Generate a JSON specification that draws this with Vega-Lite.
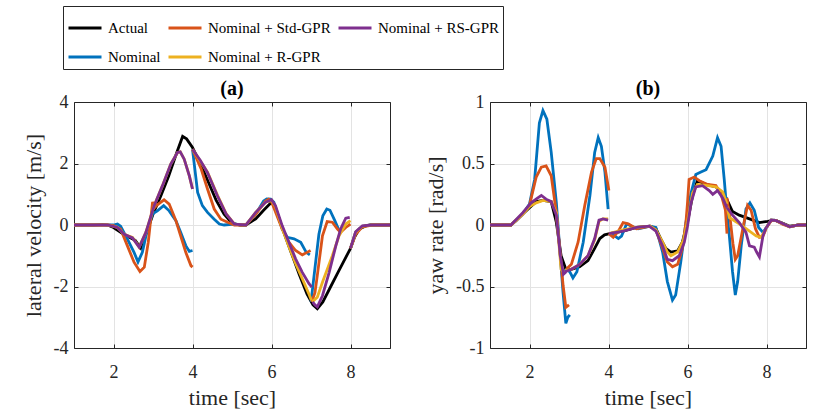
{
"$schema": "https://vega.github.io/schema/vega-lite/v6.json",
"padding": {"left": 22, "top": 5, "right": 5, "bottom": 5},
"background": "white",
"config": {
 "font": "Liberation Serif, Times New Roman, serif",
 "view": {"stroke": null},
 "axis": {"domainColor": "#262626", "domainWidth": 1, "tickColor": "#262626", "tickSize": -4, "tickWidth": 1, "gridColor": "#e3e3e3", "gridWidth": 1, "labelFont": "Liberation Serif, Times New Roman, serif", "labelFontSize": 18, "labelColor": "#262626", "titleFont": "Liberation Serif, Times New Roman, serif", "titleFontSize": 22, "titleFontWeight": "normal", "titleColor": "#262626"},
 "legend": {"orient": "none", "legendX": -11, "legendY": -96, "columns": 3, "symbolType": "stroke", "symbolSize": 1089, "symbolStrokeWidth": 2.8, "labelFontSize": 15, "labelFont": "Liberation Serif, Times New Roman, serif", "labelColor": "#000000", "strokeColor": "#262626", "fillColor": "white", "padding": 4, "columnPadding": 1, "rowPadding": 3, "labelOffset": 5, "labelLimit": 300}
},
"datasets": {"d": [
{"p":"a","s":"Actual","g":0,"t":1,"v":0},{"p":"a","s":"Actual","g":0,"t":1.5,"v":0},{"p":"a","s":"Actual","g":0,"t":1.72,"v":0.02},{"p":"a","s":"Actual","g":0,"t":1.85,"v":0},{"p":"a","s":"Actual","g":0,"t":2.0,"v":-0.08},{"p":"a","s":"Actual","g":0,"t":2.2,"v":-0.25},{"p":"a","s":"Actual","g":0,"t":2.4,"v":-0.4},{"p":"a","s":"Actual","g":0,"t":2.55,"v":-0.5},{"p":"a","s":"Actual","g":0,"t":2.69,"v":-0.75},{"p":"a","s":"Actual","g":0,"t":2.85,"v":-0.2},{"p":"a","s":"Actual","g":0,"t":3.0,"v":0.35},{"p":"a","s":"Actual","g":0,"t":3.2,"v":0.95},{"p":"a","s":"Actual","g":0,"t":3.4,"v":1.6},{"p":"a","s":"Actual","g":0,"t":3.6,"v":2.35},{"p":"a","s":"Actual","g":0,"t":3.75,"v":2.88},{"p":"a","s":"Actual","g":0,"t":3.85,"v":2.8},{"p":"a","s":"Actual","g":0,"t":4.0,"v":2.52},{"p":"a","s":"Actual","g":0,"t":4.2,"v":2.0},{"p":"a","s":"Actual","g":0,"t":4.4,"v":1.4},{"p":"a","s":"Actual","g":0,"t":4.6,"v":0.8},{"p":"a","s":"Actual","g":0,"t":4.8,"v":0.35},{"p":"a","s":"Actual","g":0,"t":5.0,"v":0.06},{"p":"a","s":"Actual","g":0,"t":5.2,"v":0},{"p":"a","s":"Actual","g":0,"t":5.35,"v":0},{"p":"a","s":"Actual","g":0,"t":5.6,"v":0.2},{"p":"a","s":"Actual","g":0,"t":5.8,"v":0.48},{"p":"a","s":"Actual","g":0,"t":6.0,"v":0.74},{"p":"a","s":"Actual","g":0,"t":6.1,"v":0.55},{"p":"a","s":"Actual","g":0,"t":6.3,"v":-0.2},{"p":"a","s":"Actual","g":0,"t":6.5,"v":-0.9},{"p":"a","s":"Actual","g":0,"t":6.7,"v":-1.6},{"p":"a","s":"Actual","g":0,"t":6.9,"v":-2.25},{"p":"a","s":"Actual","g":0,"t":7.05,"v":-2.6},{"p":"a","s":"Actual","g":0,"t":7.16,"v":-2.72},{"p":"a","s":"Actual","g":0,"t":7.3,"v":-2.5},{"p":"a","s":"Actual","g":0,"t":7.5,"v":-2.0},{"p":"a","s":"Actual","g":0,"t":7.7,"v":-1.5},{"p":"a","s":"Actual","g":0,"t":8.0,"v":-0.76},{"p":"a","s":"Actual","g":0,"t":8.1,"v":-0.4},{"p":"a","s":"Actual","g":0,"t":8.22,"v":-0.13},{"p":"a","s":"Actual","g":0,"t":8.4,"v":-0.02},{"p":"a","s":"Actual","g":0,"t":8.5,"v":0},{"p":"a","s":"Actual","g":0,"t":9,"v":0},

{"p":"a","s":"Nominal","g":1,"t":1,"v":0},{"p":"a","s":"Nominal","g":1,"t":1.85,"v":0},{"p":"a","s":"Nominal","g":1,"t":2.0,"v":0},{"p":"a","s":"Nominal","g":1,"t":2.1,"v":0.03},{"p":"a","s":"Nominal","g":1,"t":2.18,"v":-0.04},{"p":"a","s":"Nominal","g":1,"t":2.35,"v":-0.45},{"p":"a","s":"Nominal","g":1,"t":2.52,"v":-0.89},{"p":"a","s":"Nominal","g":1,"t":2.62,"v":-1.2},{"p":"a","s":"Nominal","g":1,"t":2.73,"v":-0.89},{"p":"a","s":"Nominal","g":1,"t":2.86,"v":-0.13},{"p":"a","s":"Nominal","g":1,"t":2.99,"v":0.36},{"p":"a","s":"Nominal","g":1,"t":3.11,"v":0.46},{"p":"a","s":"Nominal","g":1,"t":3.27,"v":0.63},{"p":"a","s":"Nominal","g":1,"t":3.41,"v":0.46},{"p":"a","s":"Nominal","g":1,"t":3.58,"v":0.14},{"p":"a","s":"Nominal","g":1,"t":3.7,"v":-0.24},{"p":"a","s":"Nominal","g":1,"t":3.83,"v":-0.67},{"p":"a","s":"Nominal","g":1,"t":3.92,"v":-0.86},{"p":"a","s":"Nominal","g":1,"t":4.0,"v":-0.83},
{"p":"a","s":"Nominal","g":2,"t":4.0,"v":2.46},{"p":"a","s":"Nominal","g":2,"t":4.13,"v":1.06},{"p":"a","s":"Nominal","g":2,"t":4.25,"v":0.63},{"p":"a","s":"Nominal","g":2,"t":4.38,"v":0.41},{"p":"a","s":"Nominal","g":2,"t":4.55,"v":0.19},{"p":"a","s":"Nominal","g":2,"t":4.68,"v":0.03},{"p":"a","s":"Nominal","g":2,"t":4.8,"v":0},{"p":"a","s":"Nominal","g":2,"t":5.06,"v":0.03},{"p":"a","s":"Nominal","g":2,"t":5.35,"v":0},{"p":"a","s":"Nominal","g":2,"t":5.6,"v":0.35},{"p":"a","s":"Nominal","g":2,"t":5.8,"v":0.78},{"p":"a","s":"Nominal","g":2,"t":5.88,"v":0.85},{"p":"a","s":"Nominal","g":2,"t":5.98,"v":0.84},{"p":"a","s":"Nominal","g":2,"t":6.06,"v":0.74},{"p":"a","s":"Nominal","g":2,"t":6.27,"v":-0.13},{"p":"a","s":"Nominal","g":2,"t":6.4,"v":-0.4},{"p":"a","s":"Nominal","g":2,"t":6.57,"v":-0.45},{"p":"a","s":"Nominal","g":2,"t":6.74,"v":-0.56},{"p":"a","s":"Nominal","g":2,"t":6.88,"v":-0.89},{"p":"a","s":"Nominal","g":2,"t":6.97,"v":-0.97},
{"p":"a","s":"Nominal","g":3,"t":7.0,"v":-2.5},{"p":"a","s":"Nominal","g":3,"t":7.1,"v":-1.4},{"p":"a","s":"Nominal","g":3,"t":7.2,"v":-0.3},{"p":"a","s":"Nominal","g":3,"t":7.3,"v":0.3},{"p":"a","s":"Nominal","g":3,"t":7.4,"v":0.52},{"p":"a","s":"Nominal","g":3,"t":7.48,"v":0.48},{"p":"a","s":"Nominal","g":3,"t":7.6,"v":0.15},{"p":"a","s":"Nominal","g":3,"t":7.7,"v":-0.15},{"p":"a","s":"Nominal","g":3,"t":7.76,"v":-0.22},
{"p":"a","s":"Nominal","g":4,"t":8.0,"v":-0.76},{"p":"a","s":"Nominal","g":4,"t":8.13,"v":-0.24},{"p":"a","s":"Nominal","g":4,"t":8.3,"v":-0.04},{"p":"a","s":"Nominal","g":4,"t":8.55,"v":0},{"p":"a","s":"Nominal","g":4,"t":9,"v":0},

{"p":"a","s":"Nominal + Std-GPR","g":1,"t":1,"v":0},{"p":"a","s":"Nominal + Std-GPR","g":1,"t":1.85,"v":0},{"p":"a","s":"Nominal + Std-GPR","g":1,"t":2.0,"v":-0.02},{"p":"a","s":"Nominal + Std-GPR","g":1,"t":2.18,"v":-0.13},{"p":"a","s":"Nominal + Std-GPR","g":1,"t":2.35,"v":-0.67},{"p":"a","s":"Nominal + Std-GPR","g":1,"t":2.52,"v":-1.21},{"p":"a","s":"Nominal + Std-GPR","g":1,"t":2.67,"v":-1.51},{"p":"a","s":"Nominal + Std-GPR","g":1,"t":2.78,"v":-1.37},{"p":"a","s":"Nominal + Std-GPR","g":1,"t":2.88,"v":-0.56},{"p":"a","s":"Nominal + Std-GPR","g":1,"t":2.99,"v":0.75},{"p":"a","s":"Nominal + Std-GPR","g":1,"t":3.03,"v":0.55},{"p":"a","s":"Nominal + Std-GPR","g":1,"t":3.1,"v":0.65},{"p":"a","s":"Nominal + Std-GPR","g":1,"t":3.28,"v":0.82},{"p":"a","s":"Nominal + Std-GPR","g":1,"t":3.41,"v":0.68},{"p":"a","s":"Nominal + Std-GPR","g":1,"t":3.58,"v":0.14},{"p":"a","s":"Nominal + Std-GPR","g":1,"t":3.7,"v":-0.35},{"p":"a","s":"Nominal + Std-GPR","g":1,"t":3.83,"v":-0.89},{"p":"a","s":"Nominal + Std-GPR","g":1,"t":3.96,"v":-1.32},{"p":"a","s":"Nominal + Std-GPR","g":1,"t":4.0,"v":-1.37},
{"p":"a","s":"Nominal + Std-GPR","g":2,"t":4.0,"v":2.46},{"p":"a","s":"Nominal + Std-GPR","g":2,"t":4.22,"v":1.82},{"p":"a","s":"Nominal + Std-GPR","g":2,"t":4.38,"v":1.17},{"p":"a","s":"Nominal + Std-GPR","g":2,"t":4.55,"v":0.52},{"p":"a","s":"Nominal + Std-GPR","g":2,"t":4.72,"v":0.19},{"p":"a","s":"Nominal + Std-GPR","g":2,"t":4.89,"v":0.09},{"p":"a","s":"Nominal + Std-GPR","g":2,"t":5.06,"v":0},{"p":"a","s":"Nominal + Std-GPR","g":2,"t":5.35,"v":0},{"p":"a","s":"Nominal + Std-GPR","g":2,"t":5.6,"v":0.35},{"p":"a","s":"Nominal + Std-GPR","g":2,"t":5.85,"v":0.78},{"p":"a","s":"Nominal + Std-GPR","g":2,"t":5.93,"v":0.84},{"p":"a","s":"Nominal + Std-GPR","g":2,"t":6.0,"v":0.76},{"p":"a","s":"Nominal + Std-GPR","g":2,"t":6.27,"v":-0.13},{"p":"a","s":"Nominal + Std-GPR","g":2,"t":6.44,"v":-0.56},{"p":"a","s":"Nominal + Std-GPR","g":2,"t":6.61,"v":-0.83},{"p":"a","s":"Nominal + Std-GPR","g":2,"t":6.78,"v":-0.97},{"p":"a","s":"Nominal + Std-GPR","g":2,"t":6.9,"v":-0.89},{"p":"a","s":"Nominal + Std-GPR","g":2,"t":6.99,"v":-0.83},
{"p":"a","s":"Nominal + Std-GPR","g":3,"t":7.02,"v":-2.5},{"p":"a","s":"Nominal + Std-GPR","g":3,"t":7.1,"v":-2.2},{"p":"a","s":"Nominal + Std-GPR","g":3,"t":7.16,"v":-1.64},{"p":"a","s":"Nominal + Std-GPR","g":3,"t":7.29,"v":-0.35},{"p":"a","s":"Nominal + Std-GPR","g":3,"t":7.41,"v":0.11},{"p":"a","s":"Nominal + Std-GPR","g":3,"t":7.54,"v":0.09},{"p":"a","s":"Nominal + Std-GPR","g":3,"t":7.67,"v":-0.13},{"p":"a","s":"Nominal + Std-GPR","g":3,"t":7.75,"v":-0.24},{"p":"a","s":"Nominal + Std-GPR","g":3,"t":7.88,"v":-0.08},{"p":"a","s":"Nominal + Std-GPR","g":3,"t":8.0,"v":0.03},
{"p":"a","s":"Nominal + Std-GPR","g":4,"t":8.0,"v":-0.76},{"p":"a","s":"Nominal + Std-GPR","g":4,"t":8.13,"v":-0.3},{"p":"a","s":"Nominal + Std-GPR","g":4,"t":8.3,"v":-0.06},{"p":"a","s":"Nominal + Std-GPR","g":4,"t":8.55,"v":0},{"p":"a","s":"Nominal + Std-GPR","g":4,"t":9,"v":0},

{"p":"a","s":"Nominal + R-GPR","g":1,"t":1,"v":0},{"p":"a","s":"Nominal + R-GPR","g":1,"t":1.85,"v":0},{"p":"a","s":"Nominal + R-GPR","g":1,"t":2.1,"v":-0.08},{"p":"a","s":"Nominal + R-GPR","g":1,"t":2.27,"v":-0.3},{"p":"a","s":"Nominal + R-GPR","g":1,"t":2.48,"v":-0.4},{"p":"a","s":"Nominal + R-GPR","g":1,"t":2.65,"v":-0.72},{"p":"a","s":"Nominal + R-GPR","g":1,"t":2.82,"v":-0.24},{"p":"a","s":"Nominal + R-GPR","g":1,"t":3.03,"v":0.63},{"p":"a","s":"Nominal + R-GPR","g":1,"t":3.24,"v":1.28},{"p":"a","s":"Nominal + R-GPR","g":1,"t":3.45,"v":1.98},{"p":"a","s":"Nominal + R-GPR","g":1,"t":3.62,"v":2.36},{"p":"a","s":"Nominal + R-GPR","g":1,"t":3.69,"v":2.38},{"p":"a","s":"Nominal + R-GPR","g":1,"t":3.79,"v":2.14},{"p":"a","s":"Nominal + R-GPR","g":1,"t":3.92,"v":1.6},{"p":"a","s":"Nominal + R-GPR","g":1,"t":4.0,"v":1.17},
{"p":"a","s":"Nominal + R-GPR","g":2,"t":4.0,"v":2.46},{"p":"a","s":"Nominal + R-GPR","g":2,"t":4.38,"v":1.72},{"p":"a","s":"Nominal + R-GPR","g":2,"t":4.63,"v":0.97},{"p":"a","s":"Nominal + R-GPR","g":2,"t":4.85,"v":0.37},{"p":"a","s":"Nominal + R-GPR","g":2,"t":5.06,"v":0.03},{"p":"a","s":"Nominal + R-GPR","g":2,"t":5.35,"v":0},{"p":"a","s":"Nominal + R-GPR","g":2,"t":5.6,"v":0.41},{"p":"a","s":"Nominal + R-GPR","g":2,"t":5.85,"v":0.74},{"p":"a","s":"Nominal + R-GPR","g":2,"t":6.0,"v":0.8},{"p":"a","s":"Nominal + R-GPR","g":2,"t":6.1,"v":0.6},{"p":"a","s":"Nominal + R-GPR","g":2,"t":6.27,"v":-0.1},{"p":"a","s":"Nominal + R-GPR","g":2,"t":6.44,"v":-0.7},{"p":"a","s":"Nominal + R-GPR","g":2,"t":6.61,"v":-1.25},{"p":"a","s":"Nominal + R-GPR","g":2,"t":6.78,"v":-1.75},{"p":"a","s":"Nominal + R-GPR","g":2,"t":6.95,"v":-2.25},{"p":"a","s":"Nominal + R-GPR","g":2,"t":7.01,"v":-2.45},
{"p":"a","s":"Nominal + R-GPR","g":3,"t":7.03,"v":-2.5},{"p":"a","s":"Nominal + R-GPR","g":3,"t":7.16,"v":-2.35},{"p":"a","s":"Nominal + R-GPR","g":3,"t":7.29,"v":-1.86},{"p":"a","s":"Nominal + R-GPR","g":3,"t":7.54,"v":-1.0},{"p":"a","s":"Nominal + R-GPR","g":3,"t":7.71,"v":-0.35},{"p":"a","s":"Nominal + R-GPR","g":3,"t":7.88,"v":0.03},{"p":"a","s":"Nominal + R-GPR","g":3,"t":8.0,"v":0.14},
{"p":"a","s":"Nominal + R-GPR","g":4,"t":8.0,"v":-0.76},{"p":"a","s":"Nominal + R-GPR","g":4,"t":8.13,"v":-0.24},{"p":"a","s":"Nominal + R-GPR","g":4,"t":8.3,"v":-0.04},{"p":"a","s":"Nominal + R-GPR","g":4,"t":8.55,"v":0},{"p":"a","s":"Nominal + R-GPR","g":4,"t":9,"v":0},

{"p":"a","s":"Nominal + RS-GPR","g":1,"t":1,"v":0},{"p":"a","s":"Nominal + RS-GPR","g":1,"t":1.85,"v":0},{"p":"a","s":"Nominal + RS-GPR","g":1,"t":2.1,"v":-0.08},{"p":"a","s":"Nominal + RS-GPR","g":1,"t":2.27,"v":-0.3},{"p":"a","s":"Nominal + RS-GPR","g":1,"t":2.48,"v":-0.42},{"p":"a","s":"Nominal + RS-GPR","g":1,"t":2.65,"v":-0.72},{"p":"a","s":"Nominal + RS-GPR","g":1,"t":2.82,"v":-0.24},{"p":"a","s":"Nominal + RS-GPR","g":1,"t":3.03,"v":0.63},{"p":"a","s":"Nominal + RS-GPR","g":1,"t":3.24,"v":1.28},{"p":"a","s":"Nominal + RS-GPR","g":1,"t":3.45,"v":1.98},{"p":"a","s":"Nominal + RS-GPR","g":1,"t":3.62,"v":2.36},{"p":"a","s":"Nominal + RS-GPR","g":1,"t":3.69,"v":2.38},{"p":"a","s":"Nominal + RS-GPR","g":1,"t":3.79,"v":2.14},{"p":"a","s":"Nominal + RS-GPR","g":1,"t":3.92,"v":1.6},{"p":"a","s":"Nominal + RS-GPR","g":1,"t":4.0,"v":1.17},
{"p":"a","s":"Nominal + RS-GPR","g":2,"t":4.0,"v":2.46},{"p":"a","s":"Nominal + RS-GPR","g":2,"t":4.2,"v":2.1},{"p":"a","s":"Nominal + RS-GPR","g":2,"t":4.38,"v":1.7},{"p":"a","s":"Nominal + RS-GPR","g":2,"t":4.63,"v":0.95},{"p":"a","s":"Nominal + RS-GPR","g":2,"t":4.85,"v":0.36},{"p":"a","s":"Nominal + RS-GPR","g":2,"t":5.06,"v":0.03},{"p":"a","s":"Nominal + RS-GPR","g":2,"t":5.35,"v":0},{"p":"a","s":"Nominal + RS-GPR","g":2,"t":5.6,"v":0.41},{"p":"a","s":"Nominal + RS-GPR","g":2,"t":5.85,"v":0.74},{"p":"a","s":"Nominal + RS-GPR","g":2,"t":6.0,"v":0.82},{"p":"a","s":"Nominal + RS-GPR","g":2,"t":6.1,"v":0.63},{"p":"a","s":"Nominal + RS-GPR","g":2,"t":6.27,"v":-0.02},{"p":"a","s":"Nominal + RS-GPR","g":2,"t":6.44,"v":-0.56},{"p":"a","s":"Nominal + RS-GPR","g":2,"t":6.61,"v":-1.1},{"p":"a","s":"Nominal + RS-GPR","g":2,"t":6.78,"v":-1.54},{"p":"a","s":"Nominal + RS-GPR","g":2,"t":6.95,"v":-1.91},{"p":"a","s":"Nominal + RS-GPR","g":2,"t":7.02,"v":-2.02},
{"p":"a","s":"Nominal + RS-GPR","g":3,"t":7.04,"v":-2.5},{"p":"a","s":"Nominal + RS-GPR","g":3,"t":7.1,"v":-2.6},{"p":"a","s":"Nominal + RS-GPR","g":3,"t":7.16,"v":-2.66},{"p":"a","s":"Nominal + RS-GPR","g":3,"t":7.29,"v":-2.3},{"p":"a","s":"Nominal + RS-GPR","g":3,"t":7.46,"v":-1.54},{"p":"a","s":"Nominal + RS-GPR","g":3,"t":7.63,"v":-0.67},{"p":"a","s":"Nominal + RS-GPR","g":3,"t":7.75,"v":-0.13},{"p":"a","s":"Nominal + RS-GPR","g":3,"t":7.88,"v":0.22},{"p":"a","s":"Nominal + RS-GPR","g":3,"t":7.98,"v":0.25},
{"p":"a","s":"Nominal + RS-GPR","g":4,"t":8.0,"v":-0.76},{"p":"a","s":"Nominal + RS-GPR","g":4,"t":8.13,"v":-0.22},{"p":"a","s":"Nominal + RS-GPR","g":4,"t":8.3,"v":-0.03},{"p":"a","s":"Nominal + RS-GPR","g":4,"t":8.55,"v":0},{"p":"a","s":"Nominal + RS-GPR","g":4,"t":9,"v":0},

{"p":"b","s":"Actual","g":0,"t":1,"v":0},{"p":"b","s":"Actual","g":0,"t":1.53,"v":0},{"p":"b","s":"Actual","g":0,"t":1.66,"v":0.035},{"p":"b","s":"Actual","g":0,"t":1.83,"v":0.09},{"p":"b","s":"Actual","g":0,"t":2.0,"v":0.14},{"p":"b","s":"Actual","g":0,"t":2.17,"v":0.19},{"p":"b","s":"Actual","g":0,"t":2.34,"v":0.2},{"p":"b","s":"Actual","g":0,"t":2.55,"v":0.19},{"p":"b","s":"Actual","g":0,"t":2.68,"v":0.02},{"p":"b","s":"Actual","g":0,"t":2.8,"v":-0.25},{"p":"b","s":"Actual","g":0,"t":2.92,"v":-0.36},{"p":"b","s":"Actual","g":0,"t":3.06,"v":-0.36},{"p":"b","s":"Actual","g":0,"t":3.27,"v":-0.34},{"p":"b","s":"Actual","g":0,"t":3.48,"v":-0.29},{"p":"b","s":"Actual","g":0,"t":3.65,"v":-0.19},{"p":"b","s":"Actual","g":0,"t":3.78,"v":-0.11},{"p":"b","s":"Actual","g":0,"t":3.9,"v":-0.08},{"p":"b","s":"Actual","g":0,"t":4.03,"v":-0.07},{"p":"b","s":"Actual","g":0,"t":4.37,"v":-0.05},{"p":"b","s":"Actual","g":0,"t":4.71,"v":-0.02},{"p":"b","s":"Actual","g":0,"t":5.05,"v":-0.01},{"p":"b","s":"Actual","g":0,"t":5.2,"v":-0.03},{"p":"b","s":"Actual","g":0,"t":5.32,"v":-0.11},{"p":"b","s":"Actual","g":0,"t":5.45,"v":-0.19},{"p":"b","s":"Actual","g":0,"t":5.58,"v":-0.22},{"p":"b","s":"Actual","g":0,"t":5.75,"v":-0.21},{"p":"b","s":"Actual","g":0,"t":5.87,"v":-0.14},{"p":"b","s":"Actual","g":0,"t":6.0,"v":0.02},{"p":"b","s":"Actual","g":0,"t":6.13,"v":0.24},{"p":"b","s":"Actual","g":0,"t":6.25,"v":0.36},{"p":"b","s":"Actual","g":0,"t":6.47,"v":0.33},{"p":"b","s":"Actual","g":0,"t":6.72,"v":0.31},{"p":"b","s":"Actual","g":0,"t":6.98,"v":0.22},{"p":"b","s":"Actual","g":0,"t":7.14,"v":0.11},{"p":"b","s":"Actual","g":0,"t":7.31,"v":0.08},{"p":"b","s":"Actual","g":0,"t":7.57,"v":0.05},{"p":"b","s":"Actual","g":0,"t":7.82,"v":0.02},{"p":"b","s":"Actual","g":0,"t":8.03,"v":0.03},{"p":"b","s":"Actual","g":0,"t":8.2,"v":0.04},{"p":"b","s":"Actual","g":0,"t":8.37,"v":0.02},{"p":"b","s":"Actual","g":0,"t":8.59,"v":-0.01},{"p":"b","s":"Actual","g":0,"t":8.84,"v":0},{"p":"b","s":"Actual","g":0,"t":9,"v":0},

{"p":"b","s":"Nominal","g":1,"t":1,"v":0},{"p":"b","s":"Nominal","g":1,"t":1.53,"v":0},{"p":"b","s":"Nominal","g":1,"t":1.83,"v":0.09},{"p":"b","s":"Nominal","g":1,"t":2.0,"v":0.17},{"p":"b","s":"Nominal","g":1,"t":2.13,"v":0.37},{"p":"b","s":"Nominal","g":1,"t":2.25,"v":0.83},{"p":"b","s":"Nominal","g":1,"t":2.34,"v":0.93},{"p":"b","s":"Nominal","g":1,"t":2.44,"v":0.86},{"p":"b","s":"Nominal","g":1,"t":2.55,"v":0.59},{"p":"b","s":"Nominal","g":1,"t":2.68,"v":0.18},{"p":"b","s":"Nominal","g":1,"t":2.76,"v":-0.17},{"p":"b","s":"Nominal","g":1,"t":2.85,"v":-0.55},{"p":"b","s":"Nominal","g":1,"t":2.92,"v":-0.8},{"p":"b","s":"Nominal","g":1,"t":2.97,"v":-0.75},{"p":"b","s":"Nominal","g":1,"t":3.02,"v":-0.73},
{"p":"b","s":"Nominal","g":2,"t":2.89,"v":-0.36},{"p":"b","s":"Nominal","g":2,"t":3.02,"v":-0.38},{"p":"b","s":"Nominal","g":2,"t":3.1,"v":-0.43},{"p":"b","s":"Nominal","g":2,"t":3.2,"v":-0.38},{"p":"b","s":"Nominal","g":2,"t":3.36,"v":-0.14},{"p":"b","s":"Nominal","g":2,"t":3.53,"v":0.24},{"p":"b","s":"Nominal","g":2,"t":3.65,"v":0.59},{"p":"b","s":"Nominal","g":2,"t":3.74,"v":0.71},{"p":"b","s":"Nominal","g":2,"t":3.82,"v":0.64},{"p":"b","s":"Nominal","g":2,"t":3.91,"v":0.43},{"p":"b","s":"Nominal","g":2,"t":3.99,"v":0.13},
{"p":"b","s":"Nominal","g":3,"t":4.01,"v":-0.07},{"p":"b","s":"Nominal","g":3,"t":4.12,"v":-0.08},{"p":"b","s":"Nominal","g":3,"t":4.25,"v":-0.11},{"p":"b","s":"Nominal","g":3,"t":4.33,"v":-0.09},{"p":"b","s":"Nominal","g":3,"t":4.46,"v":0.01},{"p":"b","s":"Nominal","g":3,"t":4.58,"v":-0.01},{"p":"b","s":"Nominal","g":3,"t":4.75,"v":-0.03},{"p":"b","s":"Nominal","g":3,"t":4.92,"v":-0.02},{"p":"b","s":"Nominal","g":3,"t":5.05,"v":-0.01},{"p":"b","s":"Nominal","g":3,"t":5.2,"v":-0.02},{"p":"b","s":"Nominal","g":3,"t":5.37,"v":-0.22},{"p":"b","s":"Nominal","g":3,"t":5.49,"v":-0.46},{"p":"b","s":"Nominal","g":3,"t":5.62,"v":-0.61},{"p":"b","s":"Nominal","g":3,"t":5.7,"v":-0.57},{"p":"b","s":"Nominal","g":3,"t":5.83,"v":-0.3},{"p":"b","s":"Nominal","g":3,"t":5.96,"v":0.02},{"p":"b","s":"Nominal","g":3,"t":6.09,"v":0.26},{"p":"b","s":"Nominal","g":3,"t":6.21,"v":0.41},{"p":"b","s":"Nominal","g":3,"t":6.34,"v":0.43},{"p":"b","s":"Nominal","g":3,"t":6.47,"v":0.45},{"p":"b","s":"Nominal","g":3,"t":6.64,"v":0.56},{"p":"b","s":"Nominal","g":3,"t":6.76,"v":0.71},{"p":"b","s":"Nominal","g":3,"t":6.85,"v":0.64},{"p":"b","s":"Nominal","g":3,"t":6.93,"v":0.37},{"p":"b","s":"Nominal","g":3,"t":7.0,"v":0.1},
{"p":"b","s":"Nominal","g":4,"t":7.0,"v":0.1},{"p":"b","s":"Nominal","g":4,"t":7.06,"v":-0.09},{"p":"b","s":"Nominal","g":4,"t":7.14,"v":-0.38},{"p":"b","s":"Nominal","g":4,"t":7.21,"v":-0.57},{"p":"b","s":"Nominal","g":4,"t":7.27,"v":-0.46},{"p":"b","s":"Nominal","g":4,"t":7.36,"v":-0.17},{"p":"b","s":"Nominal","g":4,"t":7.48,"v":0.13},{"p":"b","s":"Nominal","g":4,"t":7.58,"v":0.18},{"p":"b","s":"Nominal","g":4,"t":7.69,"v":0.12},{"p":"b","s":"Nominal","g":4,"t":7.8,"v":-0.02},{"p":"b","s":"Nominal","g":4,"t":7.91,"v":-0.06},{"p":"b","s":"Nominal","g":4,"t":8.0,"v":-0.02},
{"p":"b","s":"Nominal","g":5,"t":8.0,"v":-0.02},{"p":"b","s":"Nominal","g":5,"t":8.12,"v":0.04},{"p":"b","s":"Nominal","g":5,"t":8.25,"v":0.035},{"p":"b","s":"Nominal","g":5,"t":8.42,"v":0.01},{"p":"b","s":"Nominal","g":5,"t":8.59,"v":-0.015},{"p":"b","s":"Nominal","g":5,"t":8.8,"v":0},{"p":"b","s":"Nominal","g":5,"t":9,"v":0},

{"p":"b","s":"Nominal + Std-GPR","g":1,"t":1,"v":0},{"p":"b","s":"Nominal + Std-GPR","g":1,"t":1.53,"v":0},{"p":"b","s":"Nominal + Std-GPR","g":1,"t":1.83,"v":0.09},{"p":"b","s":"Nominal + Std-GPR","g":1,"t":2.0,"v":0.16},{"p":"b","s":"Nominal + Std-GPR","g":1,"t":2.17,"v":0.39},{"p":"b","s":"Nominal + Std-GPR","g":1,"t":2.3,"v":0.47},{"p":"b","s":"Nominal + Std-GPR","g":1,"t":2.42,"v":0.48},{"p":"b","s":"Nominal + Std-GPR","g":1,"t":2.55,"v":0.4},{"p":"b","s":"Nominal + Std-GPR","g":1,"t":2.68,"v":0.1},{"p":"b","s":"Nominal + Std-GPR","g":1,"t":2.76,"v":-0.17},{"p":"b","s":"Nominal + Std-GPR","g":1,"t":2.85,"v":-0.49},{"p":"b","s":"Nominal + Std-GPR","g":1,"t":2.92,"v":-0.67},{"p":"b","s":"Nominal + Std-GPR","g":1,"t":3.0,"v":-0.65},
{"p":"b","s":"Nominal + Std-GPR","g":2,"t":2.93,"v":-0.36},{"p":"b","s":"Nominal + Std-GPR","g":2,"t":3.06,"v":-0.32},{"p":"b","s":"Nominal + Std-GPR","g":2,"t":3.23,"v":-0.14},{"p":"b","s":"Nominal + Std-GPR","g":2,"t":3.4,"v":0.16},{"p":"b","s":"Nominal + Std-GPR","g":2,"t":3.57,"v":0.43},{"p":"b","s":"Nominal + Std-GPR","g":2,"t":3.69,"v":0.54},{"p":"b","s":"Nominal + Std-GPR","g":2,"t":3.78,"v":0.54},{"p":"b","s":"Nominal + Std-GPR","g":2,"t":3.91,"v":0.47},{"p":"b","s":"Nominal + Std-GPR","g":2,"t":4.01,"v":0.28},
{"p":"b","s":"Nominal + Std-GPR","g":3,"t":4.01,"v":-0.07},{"p":"b","s":"Nominal + Std-GPR","g":3,"t":4.12,"v":-0.1},{"p":"b","s":"Nominal + Std-GPR","g":3,"t":4.25,"v":-0.05},{"p":"b","s":"Nominal + Std-GPR","g":3,"t":4.37,"v":0.02},{"p":"b","s":"Nominal + Std-GPR","g":3,"t":4.5,"v":0.01},{"p":"b","s":"Nominal + Std-GPR","g":3,"t":4.71,"v":-0.03},{"p":"b","s":"Nominal + Std-GPR","g":3,"t":5.05,"v":-0.01},{"p":"b","s":"Nominal + Std-GPR","g":3,"t":5.2,"v":-0.04},{"p":"b","s":"Nominal + Std-GPR","g":3,"t":5.37,"v":-0.19},{"p":"b","s":"Nominal + Std-GPR","g":3,"t":5.49,"v":-0.3},{"p":"b","s":"Nominal + Std-GPR","g":3,"t":5.62,"v":-0.34},{"p":"b","s":"Nominal + Std-GPR","g":3,"t":5.75,"v":-0.32},{"p":"b","s":"Nominal + Std-GPR","g":3,"t":5.87,"v":-0.19},{"p":"b","s":"Nominal + Std-GPR","g":3,"t":5.96,"v":0.02},{"p":"b","s":"Nominal + Std-GPR","g":3,"t":6.0,"v":0.18},{"p":"b","s":"Nominal + Std-GPR","g":3,"t":6.04,"v":0.37},{"p":"b","s":"Nominal + Std-GPR","g":3,"t":6.17,"v":0.39},{"p":"b","s":"Nominal + Std-GPR","g":3,"t":6.3,"v":0.36},{"p":"b","s":"Nominal + Std-GPR","g":3,"t":6.51,"v":0.33},{"p":"b","s":"Nominal + Std-GPR","g":3,"t":6.72,"v":0.32},{"p":"b","s":"Nominal + Std-GPR","g":3,"t":6.85,"v":0.25},{"p":"b","s":"Nominal + Std-GPR","g":3,"t":6.96,"v":0.12},{"p":"b","s":"Nominal + Std-GPR","g":3,"t":7.0,"v":-0.07},
{"p":"b","s":"Nominal + Std-GPR","g":4,"t":7.0,"v":0.22},{"p":"b","s":"Nominal + Std-GPR","g":4,"t":7.08,"v":0.05},{"p":"b","s":"Nominal + Std-GPR","g":4,"t":7.15,"v":-0.15},{"p":"b","s":"Nominal + Std-GPR","g":4,"t":7.21,"v":-0.28},{"p":"b","s":"Nominal + Std-GPR","g":4,"t":7.27,"v":-0.25},{"p":"b","s":"Nominal + Std-GPR","g":4,"t":7.4,"v":-0.03},{"p":"b","s":"Nominal + Std-GPR","g":4,"t":7.52,"v":0.16},{"p":"b","s":"Nominal + Std-GPR","g":4,"t":7.61,"v":0.12},{"p":"b","s":"Nominal + Std-GPR","g":4,"t":7.72,"v":-0.03},{"p":"b","s":"Nominal + Std-GPR","g":4,"t":7.82,"v":-0.1},{"p":"b","s":"Nominal + Std-GPR","g":4,"t":7.91,"v":-0.09},{"p":"b","s":"Nominal + Std-GPR","g":4,"t":7.99,"v":-0.03},
{"p":"b","s":"Nominal + Std-GPR","g":5,"t":8.0,"v":-0.02},{"p":"b","s":"Nominal + Std-GPR","g":5,"t":8.12,"v":0.035},{"p":"b","s":"Nominal + Std-GPR","g":5,"t":8.25,"v":0.035},{"p":"b","s":"Nominal + Std-GPR","g":5,"t":8.42,"v":0.005},{"p":"b","s":"Nominal + Std-GPR","g":5,"t":8.59,"v":-0.015},{"p":"b","s":"Nominal + Std-GPR","g":5,"t":8.8,"v":0},{"p":"b","s":"Nominal + Std-GPR","g":5,"t":9,"v":0},

{"p":"b","s":"Nominal + R-GPR","g":1,"t":1,"v":0},{"p":"b","s":"Nominal + R-GPR","g":1,"t":1.53,"v":0},{"p":"b","s":"Nominal + R-GPR","g":1,"t":1.83,"v":0.09},{"p":"b","s":"Nominal + R-GPR","g":1,"t":2.0,"v":0.15},{"p":"b","s":"Nominal + R-GPR","g":1,"t":2.17,"v":0.18},{"p":"b","s":"Nominal + R-GPR","g":1,"t":2.34,"v":0.2},{"p":"b","s":"Nominal + R-GPR","g":1,"t":2.55,"v":0.19},{"p":"b","s":"Nominal + R-GPR","g":1,"t":2.68,"v":0.1},{"p":"b","s":"Nominal + R-GPR","g":1,"t":2.8,"v":-0.36},{"p":"b","s":"Nominal + R-GPR","g":1,"t":2.89,"v":-0.4},
{"p":"b","s":"Nominal + R-GPR","g":2,"t":2.9,"v":-0.37},{"p":"b","s":"Nominal + R-GPR","g":2,"t":3.06,"v":-0.36},{"p":"b","s":"Nominal + R-GPR","g":2,"t":3.27,"v":-0.32},{"p":"b","s":"Nominal + R-GPR","g":2,"t":3.48,"v":-0.25},{"p":"b","s":"Nominal + R-GPR","g":2,"t":3.65,"v":-0.12},{"p":"b","s":"Nominal + R-GPR","g":2,"t":3.76,"v":0.03},{"p":"b","s":"Nominal + R-GPR","g":2,"t":3.86,"v":0.05},{"p":"b","s":"Nominal + R-GPR","g":2,"t":3.99,"v":0.05},
{"p":"b","s":"Nominal + R-GPR","g":3,"t":4.01,"v":-0.07},{"p":"b","s":"Nominal + R-GPR","g":3,"t":4.37,"v":-0.04},{"p":"b","s":"Nominal + R-GPR","g":3,"t":4.71,"v":-0.02},{"p":"b","s":"Nominal + R-GPR","g":3,"t":5.05,"v":-0.01},{"p":"b","s":"Nominal + R-GPR","g":3,"t":5.2,"v":-0.04},{"p":"b","s":"Nominal + R-GPR","g":3,"t":5.37,"v":-0.14},{"p":"b","s":"Nominal + R-GPR","g":3,"t":5.49,"v":-0.22},{"p":"b","s":"Nominal + R-GPR","g":3,"t":5.58,"v":-0.25},{"p":"b","s":"Nominal + R-GPR","g":3,"t":5.75,"v":-0.22},{"p":"b","s":"Nominal + R-GPR","g":3,"t":5.9,"v":-0.12},{"p":"b","s":"Nominal + R-GPR","g":3,"t":6.0,"v":0.03},{"p":"b","s":"Nominal + R-GPR","g":3,"t":6.13,"v":0.26},{"p":"b","s":"Nominal + R-GPR","g":3,"t":6.25,"v":0.33},{"p":"b","s":"Nominal + R-GPR","g":3,"t":6.51,"v":0.32},{"p":"b","s":"Nominal + R-GPR","g":3,"t":6.72,"v":0.31},{"p":"b","s":"Nominal + R-GPR","g":3,"t":6.89,"v":0.27},{"p":"b","s":"Nominal + R-GPR","g":3,"t":7.0,"v":0.17},
{"p":"b","s":"Nominal + R-GPR","g":4,"t":7.0,"v":0.15},{"p":"b","s":"Nominal + R-GPR","g":4,"t":7.06,"v":0.06},{"p":"b","s":"Nominal + R-GPR","g":4,"t":7.31,"v":0.01},{"p":"b","s":"Nominal + R-GPR","g":4,"t":7.57,"v":-0.05},{"p":"b","s":"Nominal + R-GPR","g":4,"t":7.74,"v":-0.09},{"p":"b","s":"Nominal + R-GPR","g":4,"t":7.86,"v":-0.1},{"p":"b","s":"Nominal + R-GPR","g":4,"t":7.99,"v":-0.03},
{"p":"b","s":"Nominal + R-GPR","g":5,"t":8.0,"v":-0.02},{"p":"b","s":"Nominal + R-GPR","g":5,"t":8.12,"v":0.04},{"p":"b","s":"Nominal + R-GPR","g":5,"t":8.25,"v":0.035},{"p":"b","s":"Nominal + R-GPR","g":5,"t":8.42,"v":0.01},{"p":"b","s":"Nominal + R-GPR","g":5,"t":8.59,"v":-0.015},{"p":"b","s":"Nominal + R-GPR","g":5,"t":8.8,"v":0},{"p":"b","s":"Nominal + R-GPR","g":5,"t":9,"v":0},

{"p":"b","s":"Nominal + RS-GPR","g":1,"t":1,"v":0},{"p":"b","s":"Nominal + RS-GPR","g":1,"t":1.53,"v":0},{"p":"b","s":"Nominal + RS-GPR","g":1,"t":1.83,"v":0.1},{"p":"b","s":"Nominal + RS-GPR","g":1,"t":2.04,"v":0.18},{"p":"b","s":"Nominal + RS-GPR","g":1,"t":2.21,"v":0.22},{"p":"b","s":"Nominal + RS-GPR","g":1,"t":2.3,"v":0.24},{"p":"b","s":"Nominal + RS-GPR","g":1,"t":2.42,"v":0.21},{"p":"b","s":"Nominal + RS-GPR","g":1,"t":2.55,"v":0.19},{"p":"b","s":"Nominal + RS-GPR","g":1,"t":2.68,"v":0.08},{"p":"b","s":"Nominal + RS-GPR","g":1,"t":2.78,"v":-0.25},{"p":"b","s":"Nominal + RS-GPR","g":1,"t":2.86,"v":-0.4},{"p":"b","s":"Nominal + RS-GPR","g":1,"t":2.93,"v":-0.38},
{"p":"b","s":"Nominal + RS-GPR","g":2,"t":2.89,"v":-0.38},{"p":"b","s":"Nominal + RS-GPR","g":2,"t":3.06,"v":-0.36},{"p":"b","s":"Nominal + RS-GPR","g":2,"t":3.27,"v":-0.32},{"p":"b","s":"Nominal + RS-GPR","g":2,"t":3.48,"v":-0.25},{"p":"b","s":"Nominal + RS-GPR","g":2,"t":3.65,"v":-0.11},{"p":"b","s":"Nominal + RS-GPR","g":2,"t":3.76,"v":0.04},{"p":"b","s":"Nominal + RS-GPR","g":2,"t":3.86,"v":0.05},{"p":"b","s":"Nominal + RS-GPR","g":2,"t":3.99,"v":0.04},
{"p":"b","s":"Nominal + RS-GPR","g":3,"t":4.01,"v":-0.07},{"p":"b","s":"Nominal + RS-GPR","g":3,"t":4.37,"v":-0.05},{"p":"b","s":"Nominal + RS-GPR","g":3,"t":4.71,"v":-0.02},{"p":"b","s":"Nominal + RS-GPR","g":3,"t":5.03,"v":-0.01},{"p":"b","s":"Nominal + RS-GPR","g":3,"t":5.2,"v":-0.05},{"p":"b","s":"Nominal + RS-GPR","g":3,"t":5.37,"v":-0.17},{"p":"b","s":"Nominal + RS-GPR","g":3,"t":5.49,"v":-0.28},{"p":"b","s":"Nominal + RS-GPR","g":3,"t":5.62,"v":-0.29},{"p":"b","s":"Nominal + RS-GPR","g":3,"t":5.79,"v":-0.25},{"p":"b","s":"Nominal + RS-GPR","g":3,"t":5.92,"v":-0.14},{"p":"b","s":"Nominal + RS-GPR","g":3,"t":6.0,"v":-0.01},{"p":"b","s":"Nominal + RS-GPR","g":3,"t":6.09,"v":0.18},{"p":"b","s":"Nominal + RS-GPR","g":3,"t":6.21,"v":0.31},{"p":"b","s":"Nominal + RS-GPR","g":3,"t":6.38,"v":0.32},{"p":"b","s":"Nominal + RS-GPR","g":3,"t":6.55,"v":0.28},{"p":"b","s":"Nominal + RS-GPR","g":3,"t":6.64,"v":0.25},{"p":"b","s":"Nominal + RS-GPR","g":3,"t":6.76,"v":0.28},{"p":"b","s":"Nominal + RS-GPR","g":3,"t":6.89,"v":0.22},{"p":"b","s":"Nominal + RS-GPR","g":3,"t":7.0,"v":0.14},
{"p":"b","s":"Nominal + RS-GPR","g":4,"t":7.0,"v":0.14},{"p":"b","s":"Nominal + RS-GPR","g":4,"t":7.14,"v":0.08},{"p":"b","s":"Nominal + RS-GPR","g":4,"t":7.31,"v":0.02},{"p":"b","s":"Nominal + RS-GPR","g":4,"t":7.48,"v":-0.06},{"p":"b","s":"Nominal + RS-GPR","g":4,"t":7.57,"v":-0.17},{"p":"b","s":"Nominal + RS-GPR","g":4,"t":7.69,"v":-0.18},{"p":"b","s":"Nominal + RS-GPR","g":4,"t":7.75,"v":-0.22},{"p":"b","s":"Nominal + RS-GPR","g":4,"t":7.82,"v":-0.26},{"p":"b","s":"Nominal + RS-GPR","g":4,"t":7.91,"v":-0.09},{"p":"b","s":"Nominal + RS-GPR","g":4,"t":7.99,"v":-0.02},
{"p":"b","s":"Nominal + RS-GPR","g":5,"t":8.0,"v":-0.02},{"p":"b","s":"Nominal + RS-GPR","g":5,"t":8.12,"v":0.04},{"p":"b","s":"Nominal + RS-GPR","g":5,"t":8.25,"v":0.035},{"p":"b","s":"Nominal + RS-GPR","g":5,"t":8.42,"v":0.01},{"p":"b","s":"Nominal + RS-GPR","g":5,"t":8.59,"v":-0.015},{"p":"b","s":"Nominal + RS-GPR","g":5,"t":8.8,"v":0},{"p":"b","s":"Nominal + RS-GPR","g":5,"t":9,"v":0}
]},
"spacing": 100,
"bounds": "flush",
"hconcat": [
 {
  "width": 316, "height": 246,
  "title": {"text": "(a)", "font": "Liberation Serif, Times New Roman, serif", "fontSize": 20, "fontWeight": "bold", "color": "#000000", "offset": -6},
  "data": {"name": "d"},
  "transform": [{"filter": "datum.p == 'a'"}],
  "layer": [
   {
    "mark": {"type": "line", "strokeWidth": 2.8, "clip": true},
    "encoding": {
     "x": {"field": "t", "type": "quantitative", "scale": {"domain": [1, 9], "nice": false}, "axis": {"values": [2, 4, 6, 8], "title": "time [sec]", "labelPadding": 19, "titlePadding": 6}},
     "y": {"field": "v", "type": "quantitative", "scale": {"domain": [-4, 4], "nice": false}, "axis": {"values": [-4, -2, 0, 2, 4], "title": "lateral velocity [m/s]", "labelPadding": 10, "titlePadding": 8, "labelExpr": "toString(datum.value)"}},
     "color": {"field": "s", "type": "nominal", "scale": {"domain": ["Actual", "Nominal", "Nominal + Std-GPR", "Nominal + R-GPR", "Nominal + RS-GPR"], "range": ["#000000", "#0072BD", "#D95319", "#EDB120", "#7E2F8E"]}, "legend": {"title": null}},
     "detail": {"field": "g", "type": "nominal"}
    }
   },
   {
    "mark": {"type": "line", "opacity": 0},
    "encoding": {
     "x": {"field": "t", "type": "quantitative", "axis": {"orient": "top", "values": [2, 4, 6, 8], "labels": false, "grid": false, "title": null}},
     "y": {"field": "v", "type": "quantitative", "axis": {"orient": "right", "values": [-4, -2, 0, 2, 4], "labels": false, "grid": false, "title": null}},
     "detail": {"field": "g", "type": "nominal"}
    }
   }
  ],
  "resolve": {"axis": {"x": "independent", "y": "independent"}}
 },
 {
  "width": 316, "height": 246,
  "title": {"text": "(b)", "font": "Liberation Serif, Times New Roman, serif", "fontSize": 20, "fontWeight": "bold", "color": "#000000", "offset": -6},
  "data": {"name": "d"},
  "transform": [{"filter": "datum.p == 'b'"}],
  "layer": [
   {
    "mark": {"type": "line", "strokeWidth": 2.8, "clip": true},
    "encoding": {
     "x": {"field": "t", "type": "quantitative", "scale": {"domain": [1, 9], "nice": false}, "axis": {"values": [2, 4, 6, 8], "title": "time [sec]", "labelPadding": 19, "titlePadding": 6}},
     "y": {"field": "v", "type": "quantitative", "scale": {"domain": [-1, 1], "nice": false}, "axis": {"values": [-1, -0.5, 0, 0.5, 1], "title": "yaw rate [rad/s]", "labelPadding": 10, "titlePadding": 8, "labelExpr": "toString(datum.value)"}},
     "color": {"field": "s", "type": "nominal", "scale": {"domain": ["Actual", "Nominal", "Nominal + Std-GPR", "Nominal + R-GPR", "Nominal + RS-GPR"], "range": ["#000000", "#0072BD", "#D95319", "#EDB120", "#7E2F8E"]}, "legend": {"title": null}},
     "detail": {"field": "g", "type": "nominal"}
    }
   },
   {
    "mark": {"type": "line", "opacity": 0},
    "encoding": {
     "x": {"field": "t", "type": "quantitative", "axis": {"orient": "top", "values": [2, 4, 6, 8], "labels": false, "grid": false, "title": null}},
     "y": {"field": "v", "type": "quantitative", "axis": {"orient": "right", "values": [-1, -0.5, 0, 0.5, 1], "labels": false, "grid": false, "title": null}},
     "detail": {"field": "g", "type": "nominal"}
    }
   }
  ],
  "resolve": {"axis": {"x": "independent", "y": "independent"}}
 }
]
}
